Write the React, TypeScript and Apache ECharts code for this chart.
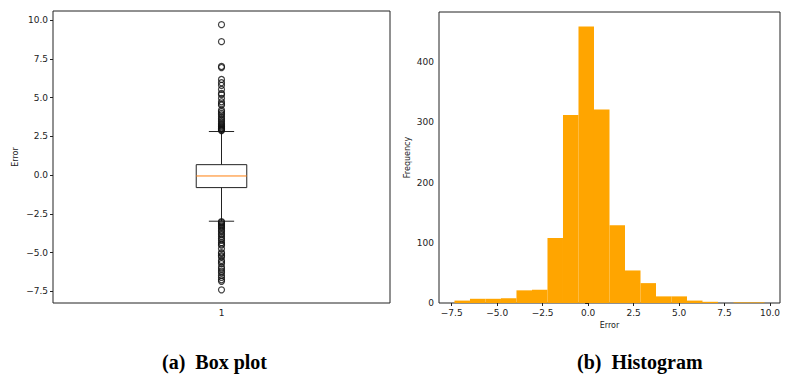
import React, { useEffect, useRef } from "react";
import * as echarts from "echarts";

// ---- Box plot data ----
const boxCategories = ["1"];
// [lower whisker, Q1, median, Q3, upper whisker]
const boxStats = [-2.97, -0.8, -0.05, 0.68, 2.82];
const upperOutliers = [
  9.72, 8.62, 7.02, 6.95, 6.18, 5.97, 5.8, 5.54, 5.28, 5.2, 4.96, 4.74, 4.6, 4.52,
  4.2, 4.1, 3.99, 3.9, 3.77, 3.65, 3.56, 3.45, 3.34, 3.25, 3.18, 3.12, 3.05, 3.0,
  2.95, 2.91, 2.88,
];
const lowerOutliers = [
  -3.0, -3.05, -3.12, -3.2, -3.28, -3.34, -3.42, -3.55, -3.62, -3.77, -3.85, -3.98,
  -4.1, -4.2, -4.35, -4.45, -4.52, -4.74, -5.0, -5.06, -5.2, -5.28, -5.5, -5.6,
  -5.71, -5.93, -6.05, -6.19, -6.3, -6.47, -6.6, -6.75, -6.85, -7.4,
];
const errorTicks = [-7.5, -5, -2.5, 0, 2.5, 5, 7.5, 10];

// ---- Histogram data ----
const histBinEdges = [
  -7.35, -6.4975, -5.645, -4.7925, -3.94, -3.0875, -2.235, -1.3825, -0.53, 0.3225,
  1.175, 2.0275, 2.88, 3.7325, 4.585, 5.4375, 6.29, 7.1425, 7.995, 8.8475, 9.7,
];
const histCounts = [4, 7, 7, 8, 21, 22, 108, 312, 459, 321, 129, 54, 33, 11, 11, 4, 2, 0, 1, 1];
const freqTicks = [0, 100, 200, 300, 400];

const TICK_FONT = "DejaVu Sans";
const INK = "#222";

export default function App() {
  const ref = useRef<HTMLDivElement>(null);
  useEffect(() => {
    if (!ref.current) return;
    const chart = echarts.init(ref.current, null, { renderer: "svg" });

    const outlierData = [...upperOutliers, ...lowerOutliers].map((v) => [0, v]);
    const histData = histCounts.map((c, i) => [histBinEdges[i], histBinEdges[i + 1], c]);

    const axisLabelStyle = { fontFamily: TICK_FONT, fontSize: 9, color: INK };

    chart.setOption({
      animation: false,
      backgroundColor: "#fff",
      grid: [
        { left: 53, top: 11, width: 337, height: 292, show: true, borderColor: INK, borderWidth: 1, backgroundColor: "transparent" },
        { left: 439, top: 12, width: 341, height: 291, show: true, borderColor: INK, borderWidth: 1, backgroundColor: "transparent" },
      ],
      xAxis: [
        {
          type: "category",
          gridIndex: 0,
          data: boxCategories,
          boundaryGap: true,
          axisLine: { show: false },
          axisTick: { show: true, alignWithLabel: true, length: 3, lineStyle: { color: INK } },
          axisLabel: { ...axisLabelStyle, margin: 5 },
          splitLine: { show: false },
        },
        {
          type: "value",
          gridIndex: 1,
          min: -8.2,
          max: 10.55,
          axisLine: { show: false },
          axisTick: { show: true, length: 3, lineStyle: { color: INK }, customValues: errorTicks },
          axisLabel: { ...axisLabelStyle, margin: 5, customValues: errorTicks, formatter: (v: number) => v.toFixed(1).replace("-", "\u2212") },
          splitLine: { show: false },
          name: "Error",
          nameLocation: "middle",
          nameGap: 16,
          nameTextStyle: { fontFamily: TICK_FONT, fontSize: 8, color: INK },
        },
      ],
      yAxis: [
        {
          type: "value",
          gridIndex: 0,
          min: -8.25,
          max: 10.6,
          axisLine: { show: false },
          axisTick: { show: true, length: 3, lineStyle: { color: INK }, customValues: errorTicks },
          axisLabel: { ...axisLabelStyle, margin: 5, customValues: errorTicks, formatter: (v: number) => v.toFixed(1).replace("-", "\u2212") },
          splitLine: { show: false },
          name: "Error",
          nameLocation: "middle",
          nameGap: 34,
          nameTextStyle: { fontFamily: TICK_FONT, fontSize: 8, color: INK },
        },
        {
          type: "value",
          gridIndex: 1,
          min: 0,
          max: 483,
          axisLine: { show: false },
          axisTick: { show: true, length: 3, lineStyle: { color: INK }, customValues: freqTicks },
          axisLabel: { ...axisLabelStyle, margin: 5, customValues: freqTicks },
          splitLine: { show: false },
          name: "Frequency",
          nameLocation: "middle",
          nameGap: 28,
          nameTextStyle: { fontFamily: TICK_FONT, fontSize: 8, color: INK },
        },
      ],
      series: [
        {
          type: "custom",
          xAxisIndex: 0,
          yAxisIndex: 0,
          data: [[0, ...boxStats]],
          encode: { x: 0, y: [1, 2, 3, 4, 5] },
          renderItem: (params: any, api: any) => {
            const xi = api.value(0);
            const band = api.size([1, 0])[0];
            const bw = band * 0.15;
            const cw = bw / 2;
            const pLow = api.coord([xi, api.value(1)]);
            const pQ1 = api.coord([xi, api.value(2)]);
            const pMed = api.coord([xi, api.value(3)]);
            const pQ3 = api.coord([xi, api.value(4)]);
            const pHigh = api.coord([xi, api.value(5)]);
            const cx = pMed[0];
            const ls = { stroke: INK, lineWidth: 1, fill: null };
            return {
              type: "group",
              children: [
                { type: "rect", shape: { x: cx - bw / 2, y: pQ3[1], width: bw, height: pQ1[1] - pQ3[1] }, style: { stroke: INK, lineWidth: 1, fill: "#fff" } },
                { type: "line", shape: { x1: cx, y1: pQ3[1], x2: cx, y2: pHigh[1] }, style: ls },
                { type: "line", shape: { x1: cx, y1: pQ1[1], x2: cx, y2: pLow[1] }, style: ls },
                { type: "line", shape: { x1: cx - cw / 2, y1: pHigh[1], x2: cx + cw / 2, y2: pHigh[1] }, style: ls },
                { type: "line", shape: { x1: cx - cw / 2, y1: pLow[1], x2: cx + cw / 2, y2: pLow[1] }, style: ls },
                { type: "line", shape: { x1: cx - bw / 2, y1: pMed[1], x2: cx + bw / 2, y2: pMed[1] }, style: { stroke: "#ff7f0e", lineWidth: 1 } },
              ],
            };
          },
        },
        {
          type: "scatter",
          xAxisIndex: 0,
          yAxisIndex: 0,
          data: outlierData,
          symbol: "circle",
          symbolSize: 6,
          itemStyle: { color: "rgba(255,255,255,0)", borderColor: "#111", borderWidth: 1.2 },
        },
        {
          type: "custom",
          xAxisIndex: 1,
          yAxisIndex: 1,
          data: histData,
          encode: { x: [0, 1], y: 2 },
          renderItem: (params: any, api: any) => {
            const p0 = api.coord([api.value(0), api.value(2)]);
            const p1 = api.coord([api.value(1), 0]);
            return {
              type: "rect",
              shape: { x: p0[0], y: p0[1], width: p1[0] - p0[0], height: p1[1] - p0[1] },
              style: { fill: "#FFA500", stroke: null },
            };
          },
        },
      ],
      graphic: [
        { type: "text", left: 162, top: 352, style: { text: "(a)  Box plot", font: "bold 20px 'Liberation Serif'", fill: "#000" } },
        { type: "text", left: 577, top: 352, style: { text: "(b)  Histogram", font: "bold 20px 'Liberation Serif'", fill: "#000" } },
      ],
    });
    return () => chart.dispose();
  }, []);
  return <div ref={ref} style={{ width: 792, height: 387, margin: -8 }} />;
}
